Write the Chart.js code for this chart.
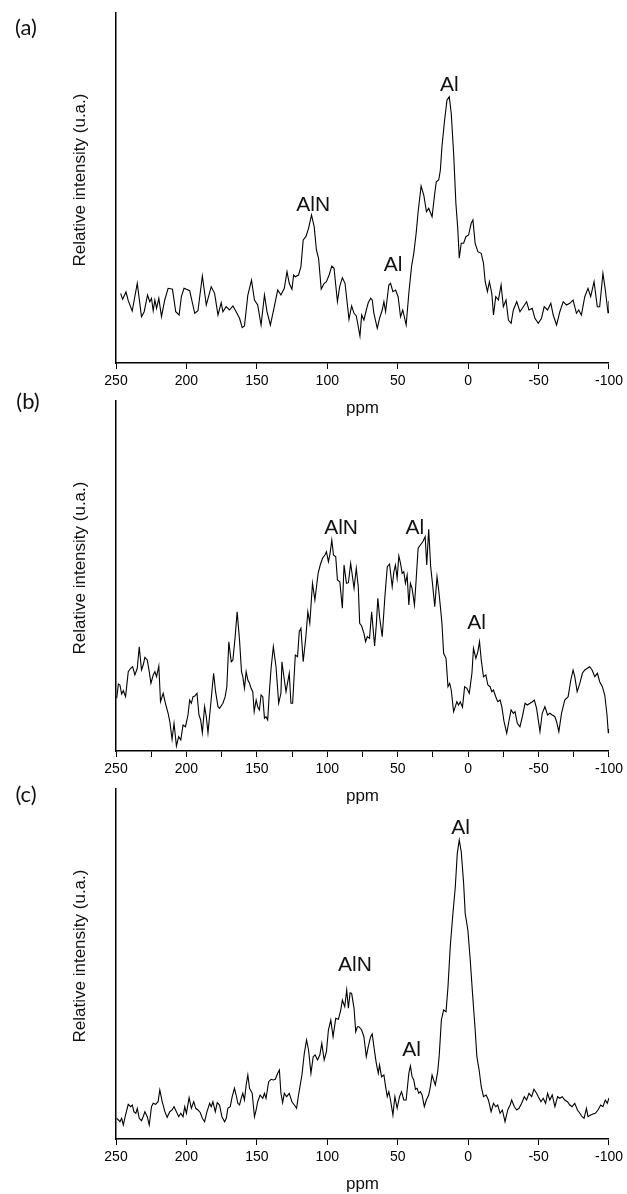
<!DOCTYPE html>
<html>
<head>
<meta charset="utf-8">
<title>27Al NMR spectra</title>
<script src="https://cdn.jsdelivr.net/npm/chart.js@4.4.1/dist/chart.umd.min.js"></script>
<style>
  html, body { margin: 0; padding: 0; background: #fff; }
  #wrap { position: relative; width: 627px; height: 1194px; overflow: hidden; }
  .panel { position: absolute; left: 0; width: 627px; }
</style>
</head>
<body>
<div id="wrap">
  <div class="panel" style="top:0;height:420px"><canvas id="chart-a"></canvas></div>
  <div class="panel" style="top:388px;height:420px"><canvas id="chart-b"></canvas></div>
  <div class="panel" style="top:776px;height:418px"><canvas id="chart-c"></canvas></div>
</div>
<script>
// x axis ticks (ppm, reversed)
var xTicksMajor = [250, 200, 150, 100, 50, 0, -50, -100];

// ---- panel (a) ----
var ppmA = [
  246.7,245.3,242.9,241.3,238.5,234.9,231.9,230.0,227.6,226.0,
  224.8,223.6,222.4,221.2,219.6,217.7,215.4,213.0,209.9,207.6,
  205.2,203.6,201.7,197.7,194.1,191.8,188.7,185.9,182.4,180.0,
  177.6,175.3,174.1,171.8,169.4,167.0,164.7,162.3,160.4,158.8,
  156.4,153.8,151.7,149.4,147.0,144.6,142.8,140.4,137.6,135.2,
  132.9,130.5,128.6,127.0,125.1,123.9,122.7,120.4,118.7,117.1,
  115.2,113.3,111.2,109.3,107.7,106.2,104.3,102.2,100.6,98.7,
  96.8,95.2,92.8,91.2,89.3,87.4,85.7,84.6,82.7,81.0,
  79.4,76.8,75.6,74.0,72.3,70.9,69.2,68.1,66.9,64.5,
  62.9,61.0,59.8,58.6,56.3,55.1,53.4,51.5,49.7,48.0,
  46.4,44.0,42.1,40.2,38.6,36.9,35.5,33.4,31.5,29.6,
  28.0,25.6,23.7,22.6,20.9,19.7,18.6,16.7,15.0,13.4,
  12.0,10.3,8.7,7.3,6.3,4.9,3.2,1.6,-0.3,-2.2,
  -3.4,-5.0,-6.9,-9.3,-10.9,-12.1,-13.7,-15.1,-16.8,-18.0,
  -19.6,-21.5,-23.4,-25.0,-26.9,-28.6,-30.5,-32.1,-34.5,-36.8,
  -39.2,-41.5,-43.2,-45.5,-47.4,-49.8,-52.1,-54.0,-56.4,-58.7,
  -60.4,-62.8,-65.1,-67.5,-69.8,-72.2,-74.5,-76.9,-78.5,-80.4,
  -82.8,-85.1,-87.0,-89.4,-91.7,-93.4,-95.7,-97.4,-99.3,-100
];
var intA = [
  69.7,63.7,71,62.3,52,79.7,46.3,51.3,68,61.3,
  64.7,52.3,63,54.7,64.7,46.3,63,74.7,73.7,51.3,
  48,66.3,74.7,72.3,49.7,52.3,87,58,76.3,69.7,
  48,60.3,51.3,56.3,53,57,51.3,44.7,35.3,37,
  68,83,63,58,38,68,51.3,38,56.3,73,
  68,74.7,91.3,79.7,73.7,88,86.3,88,96.3,123,
  126.3,134.7,148,136.3,113,104.7,74,79.7,81.3,88,
  97,94.7,61.3,76.3,85.3,79.7,58,43.7,57,49.7,
  47,27,48,43,53,60.3,64.7,63,49.7,34.7,
  44.7,53,61.3,51.3,78,79.7,71.3,73,66.3,46.3,
  53,38,69.7,96.3,109.7,129.7,151.3,177,168,151.3,
  154.7,146.3,169.7,181.3,183,193,216.3,243,263,266.3,
  249.7,209.7,159.7,133,104.7,119.7,119.7,126.3,128,139.7,
  143,119.7,111.3,109.7,99.7,81.3,71.3,81.3,69.7,48,
  66.3,63,78,56.3,63,43,39.7,53,61.3,51.3,
  56.3,61.3,53,54.7,44.7,39.7,44.7,56.3,53,59.7,
  48,38,51.3,61.3,58,59.7,63,49.7,53,48,
  66.3,74.7,66.3,81.3,56.3,56.3,89.7,73,50.3,62
];
var peakTextA = ['AlN', 'Al', 'Al'];
var peakPpmA  = [110.0, 53.2, 13.3];
var peakIntA  = [158, 98, 278];

// ---- panel (b) ----
var ppmB = [
  249.5,248.3,247.2,246.0,244.8,243.2,241.3,239.6,238.2,236.6,
  234.9,233.5,231.9,230.7,229.5,227.8,226.4,225.2,223.6,222.4,
  221.2,219.6,218.4,216.5,214.9,213.0,211.8,210.2,208.8,207.1,
  205.5,204.0,202.4,200.7,198.9,197.7,196.5,195.3,194.1,192.5,
  191.1,189.9,188.7,187.1,185.9,184.7,182.8,180.7,179.3,177.6,
  176.5,174.1,172.5,171.3,169.9,168.2,167.0,165.4,164.0,162.3,
  160.9,160.0,158.8,157.6,156.4,155.2,154.1,152.9,151.9,150.5,
  149.4,148.2,147.0,145.8,144.6,143.5,142.3,141.1,139.9,138.3,
  136.4,134.5,132.9,132.2,130.5,129.3,127.0,125.8,124.6,122.7,
  121.1,119.9,118.7,117.1,115.2,113.8,112.4,110.5,108.8,106.5,
  105.0,103.4,101.7,100.6,99.2,98.0,96.8,95.6,94.0,92.8,
  91.1,89.3,88.1,86.4,85.0,83.4,81.0,79.4,78.0,77.0,
  75.6,74.0,72.8,71.6,70.0,68.5,67.6,66.4,65.2,64.1,
  62.9,61.0,59.1,57.4,55.8,53.9,52.7,51.6,50.4,49.2,
  48.0,46.8,45.7,44.5,43.3,42.1,41.0,39.8,38.1,37.0,
  35.5,33.9,32.2,30.5,29.4,28.0,26.6,25.2,23.7,22.1,
  20.9,19.7,18.6,17.4,15.7,14.3,13.1,12.0,10.3,9.1,
  8.0,6.8,5.6,4.0,2.5,0.9,-0.8,-2.7,-3.8,-5.5,
  -6.9,-8.1,-9.3,-10.9,-12.6,-14.0,-15.6,-16.8,-18.0,-19.6,
  -21.0,-22.7,-23.9,-25.5,-27.4,-29.1,-30.5,-32.1,-33.3,-34.9,
  -36.8,-38.5,-40.4,-42.0,-43.9,-45.6,-47.0,-48.6,-51.0,-52.6,
  -54.5,-56.4,-58.0,-59.7,-61.6,-62.8,-64.4,-66.3,-68.6,-71.0,
  -72.9,-74.5,-75.7,-77.4,-79.3,-81.1,-82.8,-84.7,-86.3,-88.0,
  -89.9,-91.8,-93.4,-95.3,-97.0,-98.6,-99.5,-100
];
var intB = [
  52.7,67,66,57,60.3,54.3,79.3,82.7,84.3,76,
  82.7,104.3,81,86,93.7,91,79.3,67.7,76,79.3,
  74.3,85,49.3,57.7,47.7,37.7,29.3,11.7,27.7,5,
  14.3,11,26,24.3,36,51,47.7,54.3,55,57.7,
  36,31,18.3,44.3,34.3,18.3,46,77.7,59.3,44.3,
  42.7,47.7,54.3,64.3,109.3,89.3,91,114.3,139.3,111,
  79.3,74.3,62.7,79.3,71,67.7,62.7,59.3,39.3,51,
  44.3,41,56,54.3,32.7,34.3,31,59.3,82.7,104.3,
  84.3,47.7,57.7,89.3,71,59.3,77.7,47.7,47.7,96,
  94.3,119.3,122.7,89.3,114.3,139.3,127.7,167.7,151,177.7,
  186,192.7,196,199.3,189.3,197.7,211,196,194.3,171,
  169.3,142.7,186,167.7,168.3,187.7,162.7,182.7,164.3,127.7,
  125,117.7,109.3,114.3,112.7,139.3,124.3,105,126,152.7,
  134.3,114.3,154.3,184.3,187,164.3,179.3,186,172.7,195,
  187.7,177.7,179.3,167.7,176,146,167.7,162.7,146,169.3,
  202.7,206,209.3,214.3,186,221.7,184.3,166,144.3,174.3,
  161,144.3,127.7,97.7,92.7,64.3,67.7,61,39.3,44.3,
  49.3,46,49.3,43.7,64.3,62.7,57.7,77.7,102.7,92.7,
  99.3,109.3,91,74.3,76,66,64.3,59.3,61,54.3,
  49.3,51,44.3,29.3,17.7,31,41,37.7,39.3,27.7,
  24.3,34.3,47.7,46,47.7,49.3,51,42.7,19.3,37.7,
  44.3,36,37.7,36,34.3,29.3,19.3,37.7,51,54.3,
  71,81,74.3,59.3,67.7,77.7,81,82.7,84.3,81,
  74.3,77.7,69.3,64.3,56,36,18.3,22
];
var peakTextB = ['AlN', 'Al', 'Al'];
var peakPpmB  = [90.2, 37.9, -6.0];
var peakIntB  = [222.7, 222.7, 127.7];

// ---- panel (c) ----
var ppmC = [
  249.5,248.3,247.2,246.0,244.8,243.2,241.3,239.6,238.4,237.3,
  235.9,234.9,233.5,231.9,230.7,229.5,227.8,226.4,224.8,223.6,
  221.9,220.1,218.9,217.2,215.3,213.7,211.8,210.2,208.8,207.1,
  205.5,204.0,202.4,201.2,200.0,198.1,196.5,194.8,193.4,191.8,
  190.1,188.7,187.1,185.4,183.5,182.4,181.2,179.5,178.1,176.5,
  174.8,172.9,171.7,170.6,168.9,167.5,165.9,164.7,163.5,162.3,
  161.1,160.0,158.8,157.6,156.4,155.2,153.3,151.7,150.5,149.4,
  147.7,145.8,144.6,143.5,141.6,139.9,138.3,136.9,135.2,134.0,
  132.9,131.7,130.5,128.9,127.0,125.1,123.4,121.8,120.4,119.4,
  118.0,116.3,114.7,113.3,111.6,110.0,108.6,106.9,105.3,103.9,
  102.2,100.6,99.2,97.5,95.9,94.0,92.1,90.4,89.3,87.6,
  86.2,85.0,83.8,82.7,81.0,79.8,78.6,77.5,75.6,74.0,
  72.3,70.9,69.2,68.1,66.9,65.2,63.8,62.9,61.5,59.8,
  58.6,57.4,56.3,55.1,53.4,52.0,50.4,48.7,47.3,45.7,
  44.0,42.1,41.0,39.8,38.6,37.4,36.2,35.1,33.9,32.7,
  31.1,29.7,28.0,26.8,25.6,24.5,23.3,21.6,20.5,19.0,
  17.4,15.7,14.3,12.7,11.0,9.1,7.7,6.3,4.9,3.2,
  2.1,0.2,-1.5,-3.1,-5.0,-6.2,-7.8,-9.3,-10.9,-12.8,
  -14.4,-16.3,-18.0,-19.6,-21.0,-22.7,-24.3,-26.2,-28.1,-29.8,
  -30.9,-32.8,-34.5,-36.1,-38.0,-39.9,-41.5,-43.2,-45.1,-46.7,
  -48.6,-49.8,-51.7,-53.3,-55.0,-56.4,-58.0,-59.7,-61.6,-63.5,
  -65.1,-66.8,-68.6,-70.5,-72.2,-73.8,-75.7,-77.6,-79.3,-80.9,
  -82.3,-84.0,-85.1,-87.0,-88.7,-90.3,-92.2,-94.1,-95.7,-97.4,
  -98.8,-100
];
var intC = [
  20.7,19,17.3,20.7,14,24,34.7,32.3,34,27.3,
  25.7,30.7,20.7,18.3,22.3,27.3,22.3,14,32.3,35.7,
  34.7,37.3,49,37.3,27.3,21.7,27.3,29,32.3,27.3,
  22.3,25.7,22.3,32.3,25.7,41.3,30.7,37.3,30.7,29,
  26.3,20.7,17.3,27.3,35.7,32.3,37.3,27.3,36.3,34,
  22.3,17.3,20.7,30.7,32.3,42.3,50.7,44,35.7,34,
  40.7,45.7,39,54,64,50.7,45.7,22.3,29,37.3,
  44,40.7,45.7,40.7,57.3,59.7,59,59.7,65.7,69,
  45.7,36.3,45.7,42.3,45.7,37.3,34,30.7,44,52.3,
  64,85.7,99,89,65.7,82.3,84,79,84,95.7,
  79,87.3,109,119,102.3,120.7,119.7,129,139,132.3,
  149,130.7,146.3,145.7,130.7,107.3,112.3,112.3,109,102.3,
  82.3,92.3,102.3,105,92.3,75.7,65.7,74,62.3,64,
  52.3,42.3,47.3,39,24,42.3,30.7,42.3,47.3,39,
  39,65.7,73,62.3,59,49.7,50.7,45.7,47.3,44,
  32.3,39,44,52.3,64,59,54,67.3,84,119,
  129,127.3,152.3,192.3,222.3,252.3,285.7,299,287.3,255.7,
  225.7,209,179,145.7,109,82.3,69,52.3,42.3,44,
  39,27.3,35.7,32.3,34,25.7,29,17.3,29,34,
  39,32.3,29,30.7,35.7,42.3,39,45.7,42.3,49.7,
  45.7,42.3,37.3,40.7,35.7,45.7,39,44,32.3,42.3,
  40.7,42.3,39,37.3,34,32.3,35.7,29,25.7,22.3,
  20.7,30.7,22.3,24,25,25.7,29,34,32.3,39,
  35.7,41
];
var peakTextC = ['AlN', 'Al', 'Al'];
var peakPpmC  = [80.3, 40.1, 5.4];
var peakIntC  = [174, 89, 310.7];

var SANS = '"Liberation Sans", Arial, sans-serif';

// draws panel letter, axis titles and the peak labels
var panelText = {
  id: 'panelText',
  afterDraw: function (chart, args, opts) {
    var ctx = chart.ctx, area = chart.chartArea;
    var xs = chart.scales.x, ys = chart.scales.y;
    ctx.save();
    ctx.fillStyle = '#111';
    ctx.textAlign = 'center';
    ctx.textBaseline = 'middle';

    ctx.font = '22px Lato, "Open Sans", sans-serif';
    ctx.fillText(opts.letter, opts.letterX, opts.letterY);

    ctx.font = '17px ' + SANS;
    ctx.fillText('ppm', (area.left + area.right) / 2, area.bottom + 45);

    ctx.save();
    ctx.translate(80, (area.top + area.bottom) / 2 - 8);
    ctx.rotate(-Math.PI / 2);
    ctx.fillText('Relative intensity (u.a.)', 0, 0);
    ctx.restore();

    ctx.font = '21px ' + SANS;
    opts.peakText.forEach(function (t, i) {
      ctx.fillText(t, xs.getPixelForValue(opts.peakPpm[i]), ys.getPixelForValue(opts.peakInt[i]));
    });
    ctx.restore();
  }
};

function makeChart(id, ppm, inten, text, minor) {
  var pts = ppm.map(function (p, i) { return { x: p, y: inten[i] }; });
  return new Chart(document.getElementById(id), {
    type: 'line',
    data: {
      datasets: [{
        data: pts, borderColor: '#000', borderWidth: 1.1,
        pointRadius: 0, tension: 0, fill: false
      }]
    },
    options: {
      responsive: true, maintainAspectRatio: false, animation: false,
      layout: { padding: { top: 13, right: 16, left: 0, bottom: 0 } },
      plugins: { legend: { display: false }, tooltip: { enabled: false }, panelText: text },
      scales: {
        x: {
          type: 'linear', reverse: true, min: -100, max: 250,
          afterFit: function (s) { s.height = s.chart.height - 363; },
          afterBuildTicks: function (s) {
            if (!minor) s.ticks = xTicksMajor.map(function (v) { return { value: v }; });
          },
          ticks: {
            stepSize: 25, autoSkip: false, maxRotation: 0, padding: 4, color: '#000',
            font: { family: SANS, size: 14 },
            callback: function (v) { return xTicksMajor.indexOf(v) >= 0 ? String(v) : ''; }
          },
          grid: { drawOnChartArea: false, tickLength: 6, color: '#000', lineWidth: 1 },
          border: { color: '#000', width: 1.5 }
        },
        y: {
          min: 0, max: 350,
          afterFit: function (s) { s.width = 116; },
          ticks: { display: false },
          grid: { display: false },
          border: { color: '#000', width: 1.5 }
        }
      }
    },
    plugins: [panelText]
  });
}

makeChart('chart-a', ppmA, intA,
  { letter: '(a)', letterX: 26, letterY: 28, peakText: peakTextA, peakPpm: peakPpmA, peakInt: peakIntA }, false);
makeChart('chart-b', ppmB, intB,
  { letter: '(b)', letterX: 28, letterY: 14, peakText: peakTextB, peakPpm: peakPpmB, peakInt: peakIntB }, true);
makeChart('chart-c', ppmC, intC,
  { letter: '(c)', letterX: 26, letterY: 19, peakText: peakTextC, peakPpm: peakPpmC, peakInt: peakIntC }, false);
</script>
</body>
</html>
